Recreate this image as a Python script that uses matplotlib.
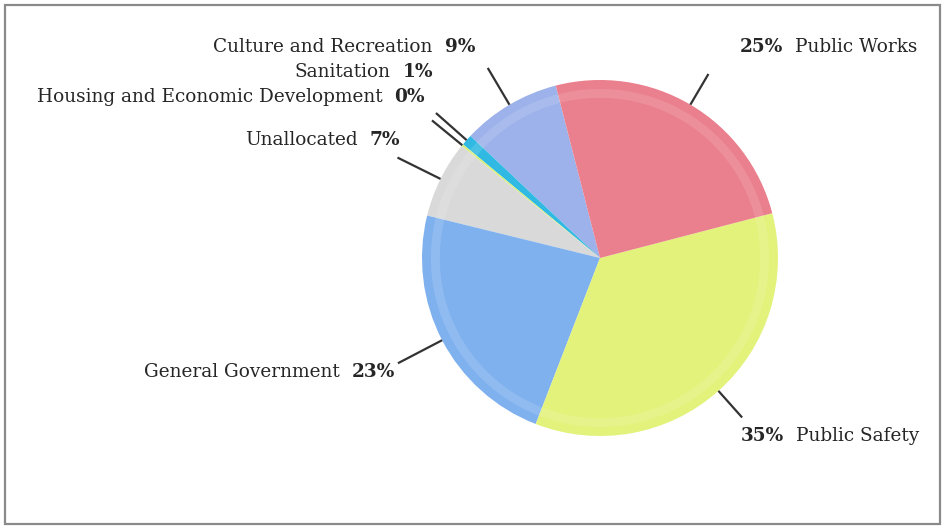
import numpy as np
import matplotlib
matplotlib.use("Agg")
import matplotlib.pyplot as plt
from matplotlib.patches import Rectangle, Wedge

# expenditure shares by function, counter-clockwise from the top of the pie
names = ["Culture and Recreation", "Sanitation", "Housing and Economic Development",
         "Unallocated", "General Government", "Public Safety", "Public Works"]
shares = [9.0, 1.0, 0.2, 7.0, 23.0, 35.0, 25.0]
colors = ["#9db2ea", "#2fb9e3", "#d6ee7c", "#d9d9d9", "#7fb1ee", "#e3f27a", "#ea7f8d"]

# label anchor (pixel coords, top-left origin), alignment, leader length
label_xy = [(475, 47), (433, 72), (425, 97), (400, 140), (395, 372), (741, 436), (740, 47)]
label_side = ["left", "left", "left", "left", "left", "right", "right"]
leader_r = [1.24, 1.23, 1.22, 1.27, 1.28, 1.2, 1.2]

W, H = 942, 529
CX, CY, R = 600, 258, 178
START = 104.4

plt.rcParams["font.family"] = ["DejaVu Serif"]
fig = plt.figure(figsize=(W / 100, H / 100), dpi=100)
ax = fig.add_axes([0, 0, 1, 1])

wedges, _ = ax.pie(shares, colors=colors, startangle=START, counterclock=True,
                   radius=R, center=(CX, H - CY), frame=True,
                   wedgeprops=dict(linewidth=0, antialiased=True))
ax.set_xlim(0, W)
ax.set_ylim(0, H)
ax.set_aspect("equal")
ax.axis("off")

# soft bevel highlight near the rim
ax.add_patch(Wedge((CX, H - CY), R * 0.95, 0, 360, width=R * 0.05,
                   facecolor="white", alpha=0.13, lw=0))

fig.canvas.draw()
rend = fig.canvas.get_renderer()
FS = 13.3
TXT = "#262626"
for w, name, v, (lx, ly), side, lr in zip(wedges, names, shares, label_xy, label_side, leader_r):
    mid = np.deg2rad((w.theta1 + w.theta2) / 2)
    x0, y0 = CX + R * np.cos(mid), H - CY + R * np.sin(mid)
    x1, y1 = CX + R * lr * np.cos(mid), H - CY + R * lr * np.sin(mid)
    ax.plot([x0, x1], [y0, y1], color="#333333", lw=1.6, solid_capstyle="butt")

    pct = f"{round(v)}%"
    y = H - ly
    if side == "left":
        t = ax.text(lx, y, pct, ha="right", va="center", fontsize=FS,
                    fontweight="bold", color=TXT)
        bw = t.get_window_extent(rend).width
        ax.text(lx - bw - 12, y, name, ha="right", va="center", fontsize=FS, color=TXT)
    else:
        t = ax.text(lx, y, pct, ha="left", va="center", fontsize=FS,
                    fontweight="bold", color=TXT)
        bw = t.get_window_extent(rend).width
        ax.text(lx + bw + 12, y, name, ha="left", va="center", fontsize=FS, color=TXT)

# outer frame
fig.patches.append(Rectangle((5 / W, 5 / H), 935 / W, 519 / H, transform=fig.transFigure,
                             fill=False, edgecolor="#8a8a8a", lw=1.6))

fig.savefig("out.png", dpi=100, facecolor="white")
